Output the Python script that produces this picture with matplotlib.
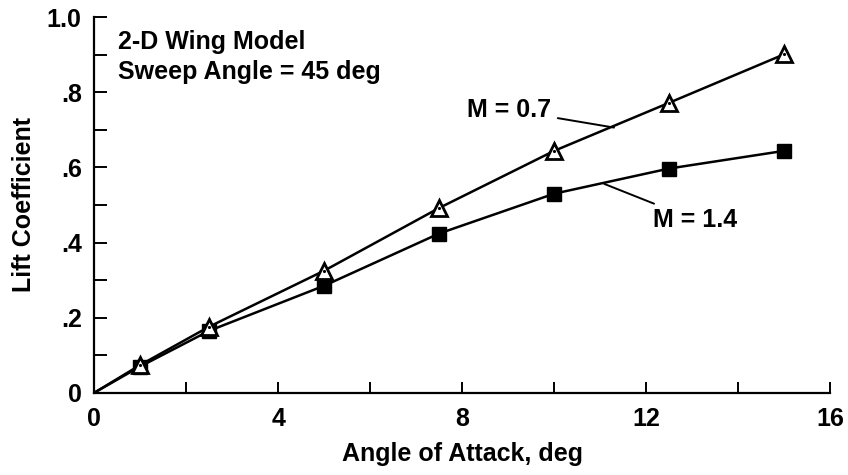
import numpy as np
import matplotlib
matplotlib.use("Agg")
import matplotlib.pyplot as plt

plt.rcParams["font.family"] = ["Liberation Sans", "DejaVu Sans"]
plt.rcParams["font.weight"] = "bold"

# data (origin added so the lines start at 0,0)
alpha = [0, 1.0, 2.5, 5.0, 7.5, 10.0, 12.5, 15.0]
cl_m07 = [0, 0.074, 0.176, 0.325, 0.492, 0.644, 0.772, 0.901]
cl_m14 = [0, 0.070, 0.165, 0.285, 0.424, 0.530, 0.597, 0.644]

xticks = [0, 2, 4, 6, 8, 10, 12, 14, 16]
xticklabels = ["0", "", "4", "", "8", "", "12", "", "16"]
yticks = [0, 0.1, 0.2, 0.3, 0.4, 0.5, 0.6, 0.7, 0.8, 0.9, 1.0]
yticklabels = ["0", "", ".2", "", ".4", "", ".6", "", ".8", "", "1.0"]


fig = plt.figure(figsize=(8.48, 4.75), dpi=100)
ax = fig.add_axes([0.111, 0.173, 0.868, 0.791])

# M = 1.4 squares
ax.plot(alpha, cl_m14, color="black", lw=1.8, marker="s", ms=10,
        mfc="black", mec="black", markevery=slice(1, None), zorder=3)

# M = 0.7 open triangles with a dot
ax.plot(alpha, cl_m07, color="black", lw=1.8, marker="^", ms=12,
        mfc="white", mec="black", mew=2.0, markevery=slice(1, None), zorder=4)
ax.plot(alpha[1:], cl_m07[1:], ls="none", marker=".", ms=2.5, color="black", zorder=5)

ax.set_xlim(0, 16)
ax.set_ylim(0, 1.0)

ax.spines["top"].set_visible(False)
ax.spines["right"].set_visible(False)
ax.spines["left"].set_linewidth(1.6)
ax.spines["bottom"].set_linewidth(1.6)

ax.set_xticks(xticks)
ax.set_xticklabels(xticklabels)
ax.set_yticks(yticks)
ax.set_yticklabels(yticklabels)
ax.tick_params(axis="x", direction="in", length=8, width=1.4, pad=10, labelsize=18)
ax.tick_params(axis="y", direction="in", length=9, width=1.4, pad=9, labelsize=18)

ax.set_xlabel("Angle of Attack, deg", fontsize=18, fontweight="bold", labelpad=8)
ax.set_ylabel("Lift Coefficient", fontsize=18, fontweight="bold", labelpad=8)

ax.text(0.52, 0.893, "2-D Wing Model\nSweep Angle = 45 deg", fontsize=18,
        fontweight="bold", va="center", ha="left", linespacing=1.3)

# curve labels with leader lines
ax.annotate("M = 0.7", xy=(11.3, 0.706), xytext=(8.1, 0.753),
            fontsize=18, fontweight="bold", va="center", ha="left",
            arrowprops=dict(arrowstyle="-", color="black", lw=1.4, shrinkA=3, shrinkB=0))
ax.annotate("M = 1.4", xy=(11.09, 0.556), xytext=(12.15, 0.46),
            fontsize=18, fontweight="bold", va="center", ha="left",
            arrowprops=dict(arrowstyle="-", color="black", lw=1.4, shrinkA=3, shrinkB=0))

fig.savefig("out.png", dpi=100)
